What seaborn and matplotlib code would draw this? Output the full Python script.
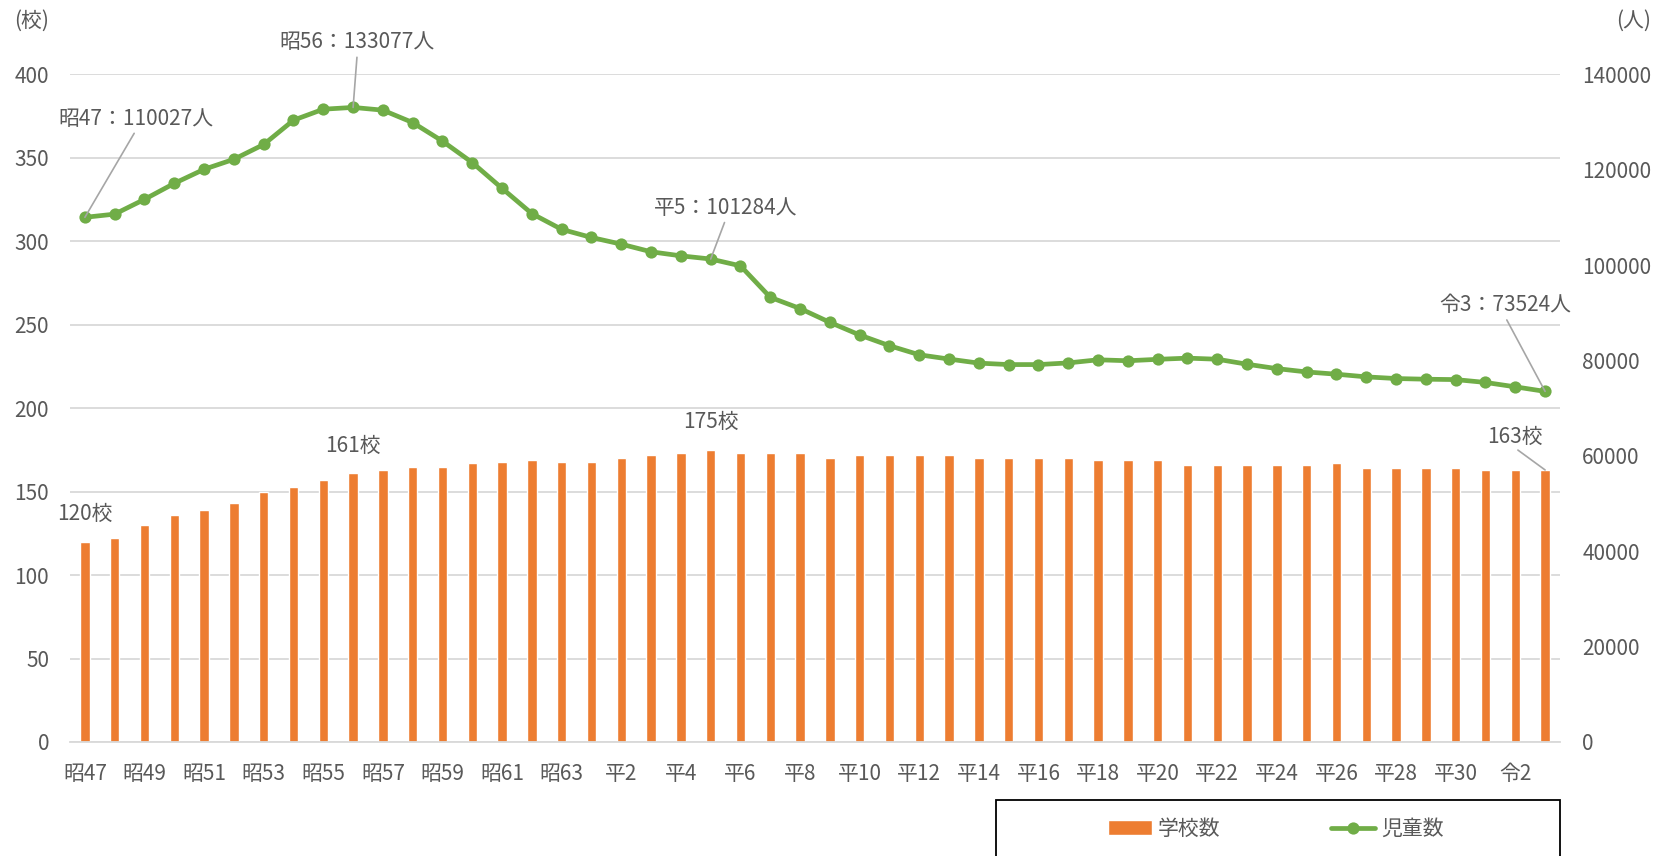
import numpy as np
import pandas as pd
import seaborn as sns
import matplotlib.pyplot as plt
from matplotlib.patches import Rectangle


years = ["昭47", "昭48", "昭49", "昭50", "昭51", "昭52", "昭53", "昭54", "昭55", "昭56",
         "昭57", "昭58", "昭59", "昭60", "昭61", "昭62", "昭63", "平1", "平2", "平3",
         "平4", "平5", "平6", "平7", "平8", "平9", "平10", "平11", "平12", "平13",
         "平14", "平15", "平16", "平17", "平18", "平19", "平20", "平21", "平22", "平23",
         "平24", "平25", "平26", "平27", "平28", "平29", "平30", "令1", "令2", "令3"]

schools = [120, 122, 130, 136, 139, 143, 150, 153, 157, 161,
           163, 165, 165, 167, 168, 169, 168, 168, 170, 172,
           173, 175, 173, 173, 173, 170, 172, 172, 172, 172,
           170, 170, 170, 170, 169, 169, 169, 166, 166, 166,
           166, 166, 167, 164, 164, 164, 164, 163, 163, 163]

students = [110027, 110700, 113800, 117150, 120100, 122200, 125300, 130400, 132700, 133077,
            132500, 129900, 126000, 121500, 116100, 110800, 107500, 105800, 104400, 102800,
            101950, 101284, 99850, 93250, 90900, 88000, 85350, 83100, 81200, 80300,
            79450, 79150, 79150, 79500, 80150, 79950, 80250, 80500, 80270, 79220,
            78300, 77600, 77130, 76570, 76220, 76080, 76000, 75400, 74480, 73524]

# labelled points: index -> offset of the text in points
student_notes = {0: (37, 71), 9: (3, 47), 21: (11, 37), 49: (-29, 62)}
school_notes = {0: (0, 20), 9: (0, 20), 21: (0, 20), 49: (-22, 24)}

GRAY = "#595959"
LEADER = "#A6A6A6"
W, H = 1668, 856

sns.set_style("white")
plt.rcParams["font.family"] = ["Noto Sans CJK JP", "DejaVu Sans"]

df = pd.DataFrame({"年度": years, "学校数": schools, "児童数": students})

fig = plt.figure(figsize=(W / 100, H / 100), dpi=100)
ax = fig.add_axes([70 / W, 1 - 742 / H, 1490 / W, 667.6 / H])

sns.barplot(data=df, x="年度", y="学校数", color="#ED7D31", saturation=1,
            width=0.31, ax=ax, label="学校数", zorder=2)

ax2 = ax.twinx()
sns.lineplot(x=np.arange(len(years)), y=df["児童数"], ax=ax2, color="#70AD47",
             lw=3.4, marker="o", markersize=8.8, markeredgewidth=0, label="児童数")

for a in (ax, ax2):
    leg = a.get_legend()
    if leg is not None:
        leg.remove()

ax.set_xlim(-0.5, len(years) - 0.5)
ax.set_ylim(0, 400)
ax.set_yticks(range(0, 401, 50))
ax2.set_ylim(0, 140000)
ax2.set_yticks(range(0, 140001, 20000))
ax.set_xticks(range(0, len(years), 2))
ax.set_xticklabels(years[::2])

ax.set_xlabel("")
ax.set_ylabel("")
ax2.set_ylabel("")
ax.yaxis.grid(True, color="#D9D9D9", lw=1.3)
ax.xaxis.grid(False)
ax.set_axisbelow(True)
for s in ["top", "left", "right"]:
    ax.spines[s].set_visible(False)
ax.spines["bottom"].set_color("#D9D9D9")
ax.spines["bottom"].set_linewidth(1.3)
for s in ax2.spines.values():
    s.set_visible(False)

ax.tick_params(axis="x", length=0, pad=15, labelsize=15, labelcolor=GRAY)
ax.tick_params(axis="y", length=0, pad=15, labelsize=15, labelcolor=GRAY)
ax2.tick_params(axis="y", length=0, pad=16, labelsize=15, labelcolor=GRAY)

# data labels, leader lines leave from the bottom centre of the text
leader = dict(arrowstyle="-", color=LEADER, lw=1.2, relpos=(0.5, 0), patchA=None,
              shrinkA=3, shrinkB=0)
for i, (dx, dy) in student_notes.items():
    ax2.annotate(f"{years[i]}：{students[i]}人", xy=(i, students[i]), xytext=(dx, dy),
                 textcoords="offset points", ha="center", va="center", fontsize=15,
                 color=GRAY, arrowprops=leader)
for i, (dx, dy) in school_notes.items():
    ax.annotate(f"{schools[i]}校", xy=(i, schools[i]), xytext=(dx, dy),
                textcoords="offset points", ha="center", va="center", fontsize=15,
                color=GRAY, arrowprops=leader if dx else None)

fig.text(32 / W, 1 - 21 / H, "(校)", ha="center", va="center", fontsize=15, color=GRAY)
fig.text(1634 / W, 1 - 21 / H, "(人)", ha="center", va="center", fontsize=15, color=GRAY)

# legend under the plot, in a box running off the bottom edge
h1, l1 = ax.get_legend_handles_labels()
h2, l2 = ax2.get_legend_handles_labels()
fig.legend(h1 + h2, l1 + l2, loc="center", bbox_to_anchor=(1276 / W, 1 - 829 / H),
           ncol=2, frameon=False, fontsize=15, labelcolor=GRAY, handlelength=2.1,
           handletextpad=0.3, columnspacing=5.3)
fig.add_artist(Rectangle((996 / W, 1 - 880 / H), 564 / W, 80 / H, transform=fig.transFigure,
                         fill=False, ec="black", lw=1.3, clip_on=False))

fig.savefig("out.png", dpi=100)
